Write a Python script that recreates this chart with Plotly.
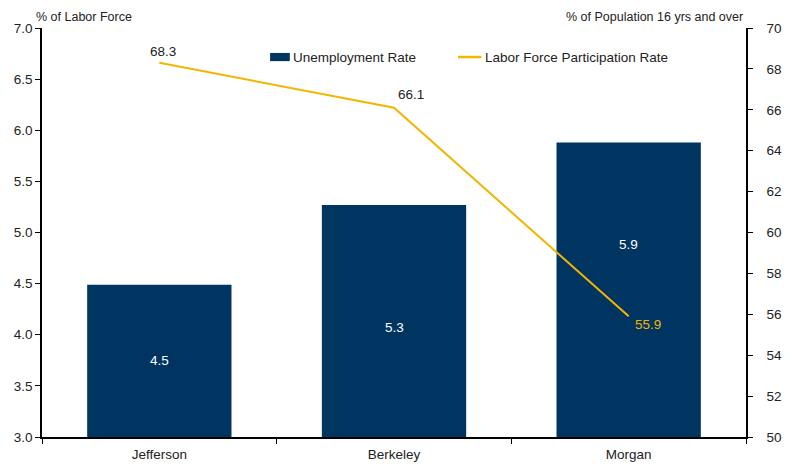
import plotly.graph_objects as go

categories = ["Jefferson", "Berkeley", "Morgan"]
unemployment = [4.49, 5.27, 5.88]
participation = [68.3, 66.1, 55.9]
left_ticks = [3.0, 3.5, 4.0, 4.5, 5.0, 5.5, 6.0, 6.5, 7.0]
right_ticks = [50, 52, 54, 56, 58, 60, 62, 64, 66, 68, 70]
series_names = ["Unemployment Rate", "Labor Force Participation Rate"]

navy = "#003562"
gold = "#F2B600"
font = "Liberation Sans, Arial, sans-serif"
ymin = 3.0

fig = go.Figure()
fig.add_trace(go.Bar(
    x=categories, y=unemployment, name=series_names[0],
    marker=dict(color=navy, line=dict(width=0)),
    yaxis="y", showlegend=False,
))
fig.add_trace(go.Scatter(
    x=categories, y=participation, name=series_names[1],
    mode="lines", line=dict(color=gold, width=2),
    yaxis="y2", cliponaxis=False, showlegend=False,
))

annotations = []
label_shifts = [0, -7, 45]
for c, v, s in zip(categories, unemployment, label_shifts):
    annotations.append(dict(x=c, y=(ymin + v) / 2, xref="x", yref="y", text=f"{v:.1f}",
                            showarrow=False, font=dict(color="white", size=13.5), yshift=s))

# line value labels
line_label_style = [
    dict(xanchor="center", yanchor="bottom", xshift=4, yshift=2, color="#222222"),
    dict(xanchor="left", yanchor="bottom", xshift=2, yshift=4, color="#222222"),
    dict(xanchor="left", yanchor="middle", xshift=4, yshift=-8, color=gold),
]
for c, v, st in zip(categories, participation, line_label_style):
    annotations.append(dict(x=c, y=v, xref="x", yref="y2", text=f"{v:.1f}", showarrow=False,
                            xanchor=st["xanchor"], yanchor=st["yanchor"],
                            xshift=st["xshift"], yshift=st["yshift"],
                            font=dict(color=st["color"], size=13.5)))

# manual legend
annotations += [
    dict(text=series_names[0], xref="paper", yref="paper", x=0.353, y=0.929,
         xanchor="left", yanchor="middle", showarrow=False, font=dict(size=13.5)),
    dict(text=series_names[1], xref="paper", yref="paper", x=0.626, y=0.929,
         xanchor="left", yanchor="middle", showarrow=False, font=dict(size=13.5)),
    dict(text="% of Labor Force", xref="paper", yref="paper", x=-0.011, y=1.0,
         xanchor="left", yanchor="bottom", showarrow=False, font=dict(size=12.5), yshift=2),
    dict(text="% of Population 16 yrs and over", xref="paper", yref="paper", x=0.999, y=1.0,
         xanchor="right", yanchor="bottom", showarrow=False, font=dict(size=12.5), yshift=2),
]
shapes = [
    dict(type="rect", xref="paper", yref="paper", x0=0.324, x1=0.352, y0=0.919, y1=0.939,
         fillcolor=navy, line=dict(width=0)),
    dict(type="line", xref="paper", yref="paper", x0=0.591, x1=0.624, y0=0.929, y1=0.929,
         line=dict(color=gold, width=2.5)),
]

fig.update_layout(
    width=784, height=456,
    margin=dict(l=34, r=46, t=20, b=27, autoexpand=False),
    paper_bgcolor="white", plot_bgcolor="white",
    font=dict(family=font, size=13.5, color="#222222"),
    bargap=0.385,
    showlegend=False,
    xaxis=dict(showline=True, linecolor="black", linewidth=1.5, tickson="boundaries",
               ticks="outside", ticklen=5, tickcolor="black", showgrid=False,
               tickfont=dict(size=13.5), automargin=False, ticklabelstandoff=4),
    yaxis=dict(range=[3.0, 7.0], tickvals=left_ticks, ticktext=[f"{v:.1f}" for v in left_ticks],
               showline=True, linecolor="black", linewidth=1.5, ticks="outside", ticklen=5,
               tickcolor="black", showgrid=False, zeroline=False, tickfont=dict(size=13.5),
               automargin=False),
    yaxis2=dict(range=[50, 70], tickvals=right_ticks, overlaying="y", side="right",
                showline=True, linecolor="black", linewidth=1.5, ticks="outside", ticklen=5,
                tickcolor="black", showgrid=False, zeroline=False, tickfont=dict(size=13.5),
                automargin=False, ticklabelstandoff=11),
    annotations=annotations,
    shapes=shapes,
)

fig.write_html("out.html")
